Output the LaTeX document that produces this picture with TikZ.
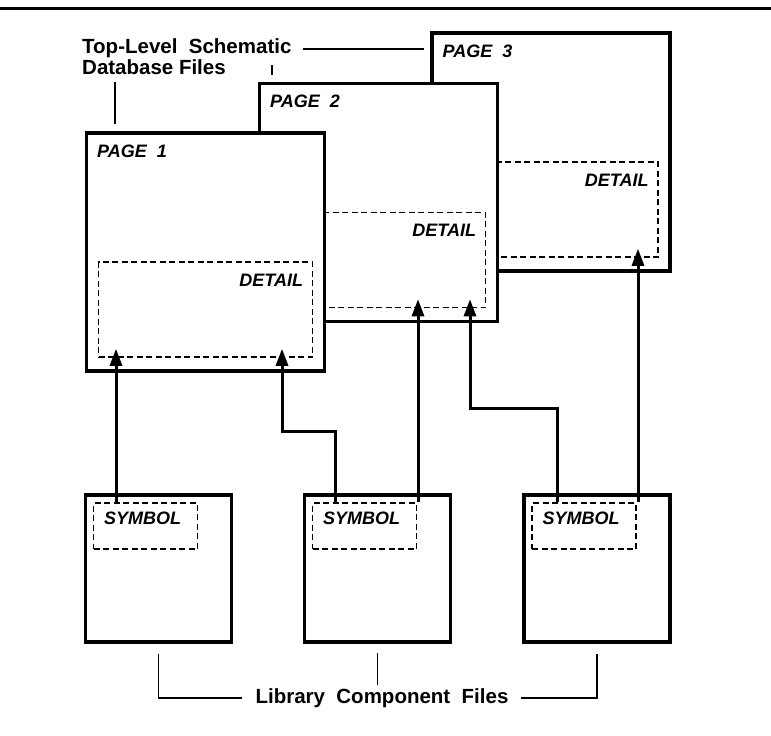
\documentclass[tikz,border=0pt]{standalone}
\usepackage{fontspec}
\setmainfont{Liberation Sans}
\usetikzlibrary{arrows.meta}

\begin{document}
\begin{tikzpicture}[x=1pt,y=-1pt]
    \tikzset{
        pagebox/.style={
            draw,line width=3.2pt,fill=white,inner sep=0pt,
            minimum width=238pt,minimum height=238pt
        },
        detailbox/.style={
            draw,line width=1.5pt,dash pattern=on 6pt off 3.5pt,inner sep=0pt,
            minimum width=214pt,minimum height=95pt
        },
        libbox/.style={
            draw,line width=3.2pt,fill=white,inner sep=0pt,
            minimum width=146pt,minimum height=147pt
        },
        symbox/.style={
            draw,line width=1.5pt,dash pattern=on 6pt off 3.5pt,inner sep=0pt,
            minimum width=104pt,minimum height=46pt
        },
        pagetext/.style={font=\fontsize{18}{20}\selectfont\bfseries\itshape,inner sep=0pt},
        caption/.style={font=\fontsize{20.5}{21}\selectfont\bfseries,inner sep=0pt},
        leader/.style={line width=1.3pt},
        feed/.style={-{Triangle[length=17pt,width=12pt]},line width=3pt,shorten >=-9pt}
    }
    \useasboundingbox (0,0) rectangle (771,736);
    \draw[line width=3pt] (0,8) -- (771,8);

    % schematic pages, back to front
    \foreach \n/\x/\y in {3/551/152,2/378.5/202.5,1/205.5/252}{
        \node[pagebox] (page\n) at (\x,\y) {};
        \node[detailbox] (detail\n) at ([yshift=-57.5pt]page\n.center) {};
        \node[pagetext,anchor=base west] (pagename\n)
            at ([xshift=12pt,yshift=-26pt]page\n.north west) {PAGE~~\n};
        \node[pagetext,anchor=base east] (detailname\n)
            at ([xshift=-10pt,yshift=-25pt]detail\n.north east) {DETAIL};
    }

    % library components
    \foreach \n/\x in {1/158.5,2/377.5,3/597}{
        \node[libbox] (lib\n) at (\x,568.5) {};
        \node[symbox,anchor=north west] (sym\n)
            at ([xshift=9pt,yshift=-9pt]lib\n.north west) {};
        \node[pagetext,anchor=base west] (symname\n)
            at ([xshift=11pt,yshift=-22pt]sym\n.north west) {SYMBOL};
    }

    \node[caption,anchor=north west,align=left] (toptext) at (82,38)
        {Top-Level~~Schematic\\Database Files};
    \node[caption] (libtext) at (382,698) {Library~~Component~~Files};

    \coordinate (lead1) at (115,82);
    \coordinate (lead2) at (272,65);
    \coordinate (lead3) at (303,49);
    \draw[leader,shorten >=7pt] (lead1) -- (page1.north -| lead1);
    \draw[leader,shorten >=7pt] (lead2) -- (page2.north -| lead2);
    \draw[leader,shorten >=6pt] (lead3) -- (page3.west |- lead3);
    \draw[leader,shorten <=10pt,shorten >=13pt] (lib1.south) |- (libtext.west);
    \draw[leader,shorten <=10pt,shorten >=12pt] (lib3.south) |- (libtext.east);
    \draw[leader,shorten <=9pt] (lib2.south) -- ++(0,41);

    % symbols referenced in the details
    \draw[feed] (sym1.north -| 116,0) -- (detail1.south -| 116,0);
    \draw[feed] (sym2.north -| 335,0) -- ++(0,-71) -| (detail1.south -| 282,0);
    \draw[feed] (sym2.north -| 418,0) -- (detail2.south -| 418,0);
    \draw[feed] (sym3.north -| 557,0) -- ++(0,-94) -| (detail2.south -| 470,0);
    \draw[feed] (sym3.north -| 638,0) -- (detail3.south -| 638,0);
\end{tikzpicture}
\end{document}
